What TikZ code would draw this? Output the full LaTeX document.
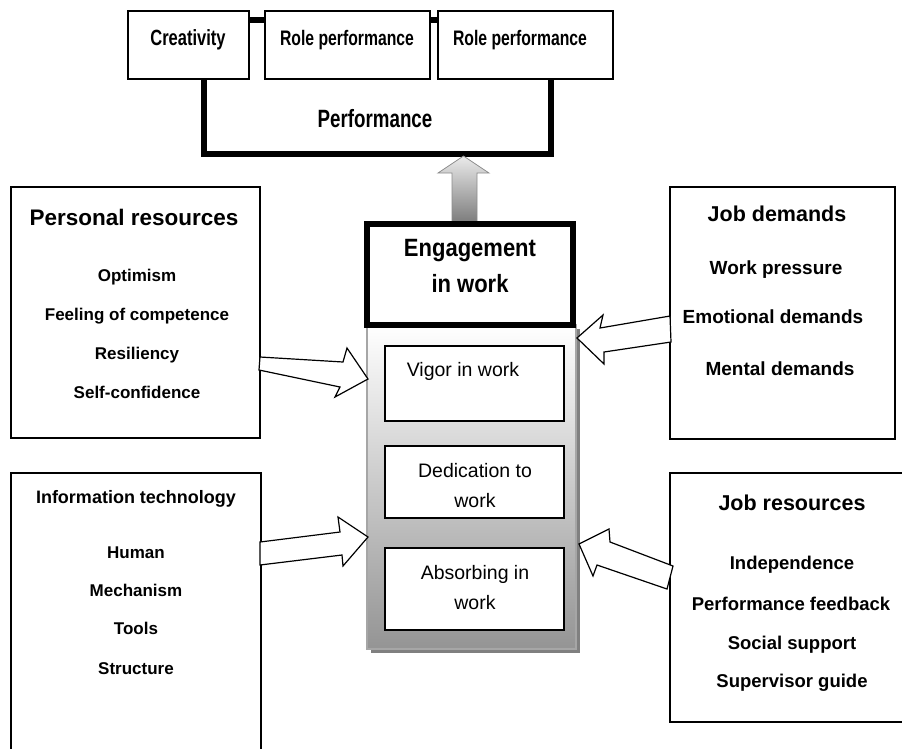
\documentclass[tikz,border=0pt]{standalone}
\usepackage{fontspec}
\setmainfont{Liberation Sans}
\newfontfamily\condA[FakeStretch=0.75]{Liberation Sans}
\newfontfamily\condB[FakeStretch=0.88]{Liberation Sans}
\usetikzlibrary{calc}
\begin{document}
\begin{tikzpicture}[x=1pt,y=-1pt,
  box/.style={draw=black, line width=1.3pt, fill=white, rectangle, inner sep=0pt, outer sep=0pt},
  heavybox/.style={draw=black, line width=5.3pt, fill=white, rectangle, inner sep=0pt, outer sep=0pt},
  txt/.style={anchor=base, inner sep=0pt, font=\fontsize{#1}{#1}\selectfont\bfseries},
  ctxt/.style={anchor=base, inner sep=0pt, font=\condA\fontsize{#1}{#1}\selectfont\bfseries},
  etxt/.style={anchor=base, inner sep=0pt, font=\condB\fontsize{#1}{#1}\selectfont\bfseries},
  rtxt/.style={anchor=base, inner sep=0pt, font=\fontsize{#1}{#1}\selectfont},
  barrow/.style={draw=black, line width=1.2pt, fill=white, line join=miter},
]
\useasboundingbox (0,0) rectangle (902,748);

% Performance group
\node[heavybox, fill=none, minimum width=347, minimum height=134] (perf) at (377.5,87) {};
\node[box, minimum width=121, minimum height=68] (crea) at (188.5,45) {};
\node[box, minimum width=165, minimum height=68] (role1) at (347.5,45) {};
\node[box, minimum width=175, minimum height=68] (role2) at (525.5,45) {};
\node[ctxt=22] (creat) at (188,45) {Creativity};
\node[ctxt=21] (role1t) at (347,45) {Role performance};
\node[ctxt=21] (role2t) at (520,45) {Role performance};
\node[ctxt=25] (perft) at (375,127) {Performance};

% up arrow
\coordinate (uptip) at (463.5,156);
\draw[draw=black!45, line width=0.8pt, top color=black!8, bottom color=black!55]
  (452,228) -- (452,173) -- (438,173) -- (uptip) -- (489,173) -- (477,173) -- (477,228) -- cycle;

% engagement panel
\fill[black!50] (371,329) rectangle (580,653);
\node[draw=black!35, line width=1.5pt, rectangle, inner sep=0pt, minimum width=209, minimum height=324,
      top color=white, bottom color=black!42] (panel) at (471.5,487) {};
\node[heavybox, minimum width=206, minimum height=101] (eng) at (470,274.5) {};
\node[etxt=25] (engt1) at (470,256) {Engagement};
\node[etxt=25] (engt2) at (470,292) {in work};

\node[box, minimum width=179, minimum height=75] (vigor) at (474.5,383.5) {};
\node[box, minimum width=179, minimum height=72] (dedic) at (474.5,482) {};
\node[box, minimum width=179, minimum height=82] (absorb) at (474.5,589) {};
\node[rtxt=19.5] (vigort) at (463,376) {Vigor in work};
\node[rtxt=19.5] (dedict1) at (475,477) {Dedication to};
\node[rtxt=19.5] (dedict2) at (475,507) {work};
\node[rtxt=19.5] (absorbt1) at (475,579) {Absorbing in};
\node[rtxt=19.5] (absorbt2) at (475,609) {work};

% Personal resources
\node[box, minimum width=249, minimum height=251] (pers) at (135.5,312.5) {};
\node[txt=22.5] (perst) at (134,225) {Personal resources};
\node[txt=17] (p1) at (137,281) {Optimism};
\node[txt=17] (p2) at (137,320) {Feeling of competence};
\node[txt=17] (p3) at (137,359) {Resiliency};
\node[txt=17] (p4) at (137,398) {Self-confidence};

% Job demands
\node[box, minimum width=225, minimum height=252] (jd) at (782.5,313) {};
\node[txt=21.5] (jdt) at (777,221) {Job demands};
\node[txt=19] (jd1) at (776,274) {Work pressure};
\node[txt=19] (jd2) at (773,323) {Emotional demands};
\node[txt=19] (jd3) at (780,375) {Mental demands};

% Information technology
\node[box, minimum width=250, minimum height=287] (it) at (136,616.5) {};
\node[txt=18] (itt) at (136,503.5) {Information technology};
\node[txt=17] (it1) at (136,558) {Human};
\node[txt=17] (it2) at (136,596) {Mechanism};
\node[txt=17] (it3) at (136,634) {Tools};
\node[txt=17] (it4) at (136,674) {Structure};

% Job resources
\node[box, minimum width=236, minimum height=249] (jr) at (788,597.5) {};
\node[txt=21.5] (jrt) at (792,510) {Job resources};
\node[txt=18.5] (jr1) at (792,569) {Independence};
\node[txt=18.5] (jr2) at (791,610) {Performance feedback};
\node[txt=18.5] (jr3) at (792,649) {Social support};
\node[txt=18.5] (jr4) at (792,687) {Supervisor guide};

% block arrows into the panel
\coordinate (a1tip) at (368,379);
\draw[barrow] (260,357) -- (343,362) -- (347,348) -- (a1tip) -- (335,397) -- (340,387) -- (259,370) -- cycle;
\coordinate (a2tip) at (368,537);
\draw[barrow] (260,542) -- (340,532) -- (338,517) -- (a2tip) -- (343,566) -- (342,555) -- (260,565) -- cycle;
\coordinate (a3tip) at (577,338);
\draw[barrow] (670,316) -- (600,328) -- (603,315) -- (a3tip) -- (604,364) -- (604,352) -- (671,342) -- cycle;
\coordinate (a4tip) at (579,544);
\draw[barrow] (673,566) -- (610,542) -- (609,529) -- (a4tip) -- (593,576) -- (597,565) -- (667,589) -- cycle;
\end{tikzpicture}
\end{document}
